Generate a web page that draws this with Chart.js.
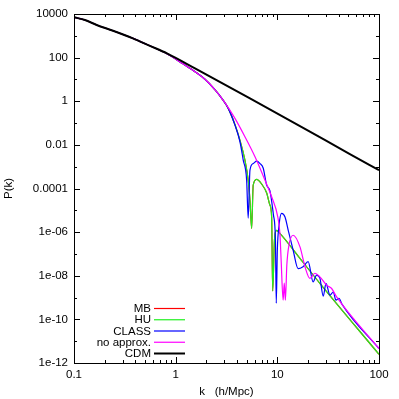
<!DOCTYPE html>
<html>
<head>
<meta charset="utf-8">
<script src="https://cdn.jsdelivr.net/npm/chart.js@4.4.1/dist/chart.umd.min.js"></script>
<style>
  html, body { margin: 0; padding: 0; background: #fff; }
  canvas { display: block; }
</style>
</head>
<body>
<canvas id="pk" width="399" height="399"></canvas>
<script>
// ===== data (k in h/Mpc, P(k)) =====
const kCDM = [0.1, 0.128, 0.167, 0.242, 0.38, 0.558, 0.821, 1.55, 5.38, 16.7, 51.7, 100];
const pCDM = [7050, 5310, 3130, 1715, 767, 348, 157, 32.3, 1.36, 0.0728, 0.0038, 0.00069];

const kNoApprox = [0.1, 0.128, 0.167, 0.242, 0.38, 0.558, 0.821, 1.18, 1.55, 1.94, 2.43, 3.05, 3.83, 4.8, 6.03,
  7.55, 8.79, 10.1, 10.6, 10.9, 11.4, 11.7, 12.0, 12.4, 13.0, 14.3, 16.7, 18.7, 20.9, 23.4, 26.2,
  30.5, 34.2, 38.3, 100];
const pNoApprox = [7050, 5310, 3130, 1715, 767, 348, 152, 52, 22.5, 10.2, 3.44, 0.87, 0.164, 0.0236, 0.00284,
  2.43e-4, 4.16e-5, 5e-6, 8.7e-7, 5.2e-8, 7.6e-10, 4.6e-9, 7.6e-10, 3.1e-8, 2.5e-7, 7.2e-7, 2.1e-7, 2.6e-8, 7.6e-9, 1.3e-8, 8.9e-9,
  3.7e-9, 2.6e-9, 1.07e-9, 4.6e-12];

const kCLASS = [0.1, 0.128, 0.167, 0.242, 0.38, 0.558, 0.821, 1.18, 1.55, 1.94, 2.43, 2.83, 3.29, 3.83, 4.29,
  4.62, 4.99, 5.17, 5.38, 5.8, 6.26, 6.75, 7.27, 7.85, 8.45, 9.16, 9.58, 9.76, 10.0, 10.4, 11.0,
  11.9, 12.8, 14.3, 16.0, 17.9, 20.1, 22.5, 24.3, 26.2, 28.3, 30.1, 32.9, 35.5, 37.7, 40.4, 43.2, 100];
const pCLASS = [7050, 5310, 3130, 1715, 767, 348, 152, 52, 22.5, 10.2, 3.44, 1.4, 0.472, 0.081, 0.0139,
  0.002, 2.43e-4, 4.4e-6, 7e-4, 1.39e-3, 1.8e-3, 1.39e-3, 8.5e-4, 1.43e-4, 8e-5, 6e-6, 4.3e-7, 5.5e-10, 1.5e-7, 2.1e-6, 7.2e-6,
  4.9e-6, 1.2e-6, 1.5e-7, 2.1e-8, 2.6e-8, 4.4e-8, 5.2e-9, 1.07e-8, 7.8e-9, 1.15e-9, 4.5e-9, 1.3e-9, 1.8e-9, 7.6e-10, 9.3e-10, 5e-10, 4.6e-12];

const kHU = [0.1, 0.128, 0.167, 0.242, 0.38, 0.558, 0.821, 1.18, 1.55, 1.94, 2.43, 2.83, 3.29, 3.83, 4.29,
  4.8, 5.17, 5.38, 5.59, 5.79, 6.26, 7.02, 7.86, 8.45, 8.79, 9.0, 9.37, 9.85, 10.6, 16.7, 26.2, 100];
const pHU = [7050, 5310, 3130, 1715, 767, 348, 152, 52, 22.5, 10.2, 3.44, 1.4, 0.472, 0.085, 0.016,
  0.002, 2.43e-4, 2.9e-5, 1.5e-6, 1.43e-4, 2.6e-4, 1.58e-4, 6.2e-5, 1.74e-5, 5e-6, 2e-9, 4.3e-7, 1.2e-6, 8.7e-7, 6.2e-8, 4.5e-9, 2.5e-12];

// MB lies underneath HU everywhere in the picture
const kMB = [0.1, 0.128, 0.167, 0.242, 0.38, 0.558, 0.821, 1.18, 1.55, 1.94, 2.43, 2.83, 3.29, 3.83, 4.29,
  4.8, 5.17, 5.38, 5.59, 5.79, 6.26, 7.02, 7.86, 8.45, 8.79, 9.0, 9.37, 9.85, 10.6, 16.7, 26.2, 100];
const pMB = [7050, 5310, 3130, 1715, 767, 348, 152, 52, 22.5, 10.2, 3.44, 1.4, 0.472, 0.085, 0.016,
  0.002, 2.43e-4, 2.9e-5, 1.5e-6, 1.43e-4, 2.6e-4, 1.58e-4, 6.2e-5, 1.74e-5, 5e-6, 2e-9, 4.3e-7, 1.2e-6, 8.7e-7, 6.2e-8, 4.5e-9, 2.5e-12];

const xTicks = [0.1, 1, 10, 100];
const xTickLabels = ["0.1", "1", "10", "100"];
const yTicks = [1e-12, 1e-10, 1e-8, 1e-6, 1e-4, 0.01, 1, 100, 10000];
const yTickLabels = ["1e-12", "1e-10", "1e-08", "1e-06", "0.0001", "0.01", "1", "100", "10000"];

const FONT = "Liberation Sans, Arial, Helvetica, sans-serif";

// ===== helpers =====
function toPoints(ks, ps) {
    return ks.map((k, i) => ({ x: k, y: ps[i] }));
}

function makeSet(label, ks, ps, color, width, order) {
    return {
        label,
        data: toPoints(ks, ps),
        borderColor: color,
        borderWidth: width,
        pointRadius: 0,
        fill: false,
        cubicInterpolationMode: "monotone",
        order,
    };
}

// gnuplot style frame: border, inward ticks on all four sides, legend, axis titles
const framePlugin = {
    id: "frame",
    afterDatasetsDraw(chart) {
        const { ctx, chartArea: a, scales } = chart;
        const xs = scales.x, ys = scales.y;
        ctx.save();
        ctx.strokeStyle = "#000";
        ctx.lineWidth = 1;
        ctx.beginPath();

        // x ticks: decades major, 2..9 minor
        for (let d = -1; d <= 2; d++) {
            for (let m = 1; m <= 9; m++) {
                const v = m * Math.pow(10, d);
                if (v < 0.1 || v > 100.001) continue;
                const px = Math.round(xs.getPixelForValue(v)) + 0.5;
                const len = m === 1 ? 6 : 3;
                ctx.moveTo(px, a.bottom); ctx.lineTo(px, a.bottom - len);
                ctx.moveTo(px, a.top); ctx.lineTo(px, a.top + len);
            }
        }
        // y ticks: every decade, labelled ones longer
        for (let e = -12; e <= 4; e++) {
            const py = Math.round(ys.getPixelForValue(Math.pow(10, e))) + 0.5;
            const len = (e % 2 === 0) ? 6 : 3;
            ctx.moveTo(a.left, py); ctx.lineTo(a.left + len, py);
            ctx.moveTo(a.right, py); ctx.lineTo(a.right - len, py);
        }
        ctx.stroke();

        ctx.strokeRect(Math.round(a.left) + 0.5, Math.round(a.top) + 0.5,
            Math.round(a.right - a.left), Math.round(a.bottom - a.top));
        ctx.restore();
    },
    afterDraw(chart) {
        const { ctx, chartArea: a } = chart;
        ctx.save();
        ctx.fillStyle = "#000";
        ctx.font = "11.5px " + FONT;

        // legend, bottom left inside the frame
        const entries = [...chart.data.datasets].sort((p, q) => q.order - p.order);
        entries.forEach((ds, i) => {
            const y = a.bottom - 54.5 + i * 11.25;
            ctx.textAlign = "right";
            ctx.textBaseline = "middle";
            ctx.fillText(ds.label, a.left + 77, y + 0.5);
            ctx.strokeStyle = ds.borderColor;
            ctx.lineWidth = ds.borderWidth;
            ctx.beginPath();
            ctx.moveTo(a.left + 80, y);
            ctx.lineTo(a.left + 111, y);
            ctx.stroke();
        });

        // axis titles
        ctx.textAlign = "center";
        ctx.textBaseline = "middle";
        ctx.fillText("k   (h/Mpc)", (a.left + a.right) / 2, 392);
        ctx.translate(9, (a.top + a.bottom) / 2);
        ctx.rotate(-Math.PI / 2);
        ctx.fillText("P(k)", 0, 0);
        ctx.restore();
    }
};

const ctx = document.getElementById("pk").getContext("2d");
const pkChart = new Chart(ctx, {
    type: "line",
    data: {
        datasets: [
            makeSet("MB", kMB, pMB, "#ff0000", 1.2, 5),
            makeSet("HU", kHU, pHU, "#20f020", 1.2, 4),
            makeSet("CLASS", kCLASS, pCLASS, "#0000ff", 1.2, 3),
            makeSet("no approx.", kNoApprox, pNoApprox, "#ff00ff", 1.2, 2),
            makeSet("CDM", kCDM, pCDM, "#000000", 2, 1),
        ],
    },
    options: {
        responsive: false,
        animation: false,
        layout: { padding: { left: 0, top: 14, right: 20, bottom: 0 } },
        plugins: { legend: { display: false }, tooltip: { enabled: false } },
        scales: {
            x: {
                type: "logarithmic",
                min: 0.1,
                max: 100,
                grid: { display: false, drawTicks: false },
                border: { display: false },
                afterBuildTicks: s => { s.ticks = xTicks.map(v => ({ value: v })); },
                afterFit: s => { s.height = 36; },
                ticks: {
                    autoSkip: false,
                    maxRotation: 0,
                    padding: 5,
                    color: "#000",
                    font: { family: FONT, size: 11.5 },
                    callback: (v, i) => xTickLabels[i],
                },
            },
            y: {
                type: "logarithmic",
                min: 1e-12,
                max: 10000,
                grid: { display: false, drawTicks: false },
                border: { display: false },
                afterBuildTicks: s => { s.ticks = yTicks.map(v => ({ value: v })); },
                afterFit: s => { s.width = 74; },
                ticks: {
                    autoSkip: false,
                    padding: 6,
                    color: "#000",
                    font: { family: FONT, size: 11.5 },
                    callback: (v, i) => yTickLabels[i],
                },
            },
        },
    },
    plugins: [framePlugin],
});
</script>
</body>
</html>
